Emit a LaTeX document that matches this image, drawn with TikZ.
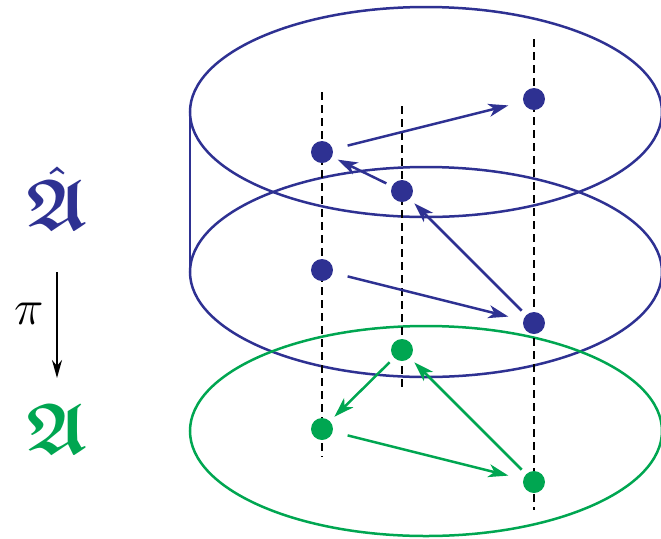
\documentclass[tikz,border=0pt]{standalone}
\usepackage{amsmath,amssymb}
\usepackage{tikz}
\usetikzlibrary{arrows.meta}
\definecolor{SheetBlue}{HTML}{2E3192}
\definecolor{BaseGreen}{HTML}{00A651}

\tikzset{
  sheetdot/.style={circle, fill=#1, inner sep=0pt, minimum size=11pt},
  lift/.style={-{Stealth[length=10pt,width=6.5pt,inset=2.8pt]}, #1, line width=1.25pt, shorten <=3pt, shorten >=3pt},
  fiber/.style={dash pattern=on 4pt off 2.5pt, line width=1.2pt},
  sheet/.style={#1, line width=1.25pt}
}

\begin{document}
\begin{tikzpicture}[x=0.5pt, y=-0.5pt]
\useasboundingbox (0,0) rectangle (661,538);

% Sheets of the cover (blue) and the base (green)
\draw[sheet=SheetBlue] (426,112) ellipse [x radius=236, y radius=105];
\draw[sheet=SheetBlue] (426,272) ellipse [x radius=236, y radius=105];
\draw[sheet=SheetBlue] (190,112) -- (190,272);
\draw[sheet=BaseGreen] (426,431) ellipse [x radius=236, y radius=105];

% Fibres over the base points
\foreach \x/\ya/\yb in {322/92/457, 402/106/391, 534/39/510}
  \draw[fiber] (\x,\ya) -- (\x,\yb);

% Points upstairs
\node[sheetdot=SheetBlue] (L1) at (322,152) {};
\node[sheetdot=SheetBlue] (L2) at (322,270) {};
\node[sheetdot=SheetBlue] (M1) at (402,191) {};
\node[sheetdot=SheetBlue] (R1) at (534,99) {};
\node[sheetdot=SheetBlue] (R2) at (534,323) {};

% Points downstairs
\node[sheetdot=BaseGreen] (gL) at (322,429) {};
\node[sheetdot=BaseGreen] (gM) at (402,350) {};
\node[sheetdot=BaseGreen] (gR) at (534,482) {};

% Arrows upstairs
\draw[lift=SheetBlue, shorten <=7.5pt, shorten >=7.5pt] (L1) -- (R1);
\draw[lift=SheetBlue] (M1) -- (L1);
\draw[lift=SheetBlue] (R2) -- (M1);
\draw[lift=SheetBlue, shorten <=7.5pt, shorten >=7.5pt] (L2) -- (R2);

% Arrows downstairs
\draw[lift=BaseGreen] (gM) -- (gL);
\draw[lift=BaseGreen, shorten <=7.5pt, shorten >=7.5pt] (gL) -- (gR);
\draw[lift=BaseGreen] (gR) -- (gM);

% Projection
\node[text=SheetBlue, font=\fontsize{36}{42}\selectfont] (Ahat) at (57,198) {$\boldsymbol{\hat{\mathfrak{A}}}$};
\node[text=BaseGreen, font=\fontsize{36}{42}\selectfont] (A) at (57,429) {$\boldsymbol{\mathfrak{A}}$};
\draw[-{Stealth[length=9pt,width=5pt]}, line width=0.9pt, shorten <=37pt, shorten >=25.5pt] (Ahat.center) -- (A.center)
  node[midway, left=3pt, font=\fontsize{28}{32}\selectfont] {$\pi$};
\end{tikzpicture}
\end{document}
